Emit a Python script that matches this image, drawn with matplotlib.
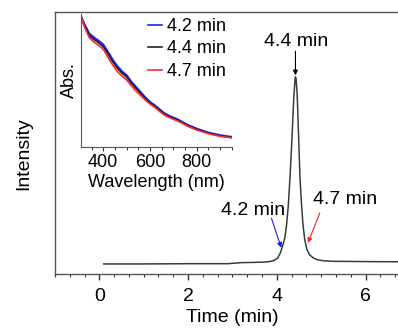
import matplotlib
matplotlib.use('Agg')
import matplotlib.pyplot as plt
from matplotlib.ticker import MultipleLocator

plt.rcParams['font.family'] = ['Liberation Sans', 'DejaVu Sans']

# chromatogram (time in min, intensity in arbitrary units)
time = [0.1, 1.0, 2.0, 2.9, 3.2, 3.5, 3.7, 3.84, 3.95, 4.02, 4.08, 4.13, 4.18,
        4.22, 4.26, 4.30, 4.34, 4.38, 4.41, 4.42, 4.435, 4.46, 4.49, 4.52,
        4.55, 4.59, 4.63, 4.68, 4.74, 4.82, 4.92, 5.05, 5.3, 6.0, 7.0]
intensity = [0.038, 0.038, 0.039, 0.039, 0.043, 0.044, 0.045, 0.047, 0.052,
             0.061, 0.080, 0.107, 0.137, 0.187, 0.263, 0.378, 0.511, 0.664,
             0.742, 0.752, 0.744, 0.683, 0.530, 0.378, 0.282, 0.187, 0.130,
             0.092, 0.073, 0.061, 0.054, 0.050, 0.048, 0.047, 0.046]

# inset absorption spectra
wavelength = [305, 320, 340, 360, 380, 400, 420, 440, 460, 480, 500, 520, 540,
              560, 580, 600, 620, 640, 660, 680, 700, 720, 740, 760, 780, 800,
              825, 850, 875, 900, 925, 950]
abs_42 = [1.0, 0.94, 0.87, 0.84, 0.815, 0.785, 0.73, 0.67, 0.62, 0.58, 0.55,
          0.50, 0.46, 0.42, 0.38, 0.345, 0.32, 0.29, 0.26, 0.24, 0.225, 0.21,
          0.19, 0.17, 0.155, 0.14, 0.125, 0.11, 0.10, 0.09, 0.083, 0.077]
abs_44 = [1.0, 0.93, 0.855, 0.825, 0.80, 0.77, 0.715, 0.655, 0.605, 0.567,
          0.537, 0.49, 0.45, 0.41, 0.37, 0.337, 0.312, 0.283, 0.254, 0.234,
          0.219, 0.204, 0.185, 0.165, 0.15, 0.135, 0.12, 0.106, 0.096, 0.086,
          0.079, 0.073]
abs_47 = [1.0, 0.92, 0.84, 0.805, 0.78, 0.75, 0.69, 0.63, 0.58, 0.545, 0.515,
          0.47, 0.43, 0.395, 0.36, 0.33, 0.305, 0.275, 0.247, 0.228, 0.213,
          0.198, 0.18, 0.16, 0.145, 0.13, 0.116, 0.102, 0.092, 0.082, 0.076,
          0.07]

fig = plt.figure(figsize=(3.98, 3.30), dpi=100)
ax = fig.add_axes([0.138, 0.170, 0.892, 0.794])
ax.plot(time, intensity, color='#3a3a3a', lw=1.1)
ax.set_xlim(-1, 7)
ax.set_ylim(0, 1)
ax.set_yticks([])
ax.xaxis.set_major_locator(MultipleLocator(2))
ax.xaxis.set_minor_locator(MultipleLocator(1 / 3))
ax.tick_params(axis='x', which='major', length=4, width=1, labelsize=14,
               colors='#333333', labelcolor='black', pad=6)
ax.tick_params(axis='x', which='minor', length=2.5, width=0.8, colors='#333333')
ax.spines['right'].set_visible(False)
for s in ['left', 'top', 'bottom']:
    ax.spines[s].set_color('#555555')
    ax.spines[s].set_linewidth(1)
ax.set_xlabel('Time (min)', fontsize=14, labelpad=3)
ax.set_ylabel('Intensity', fontsize=14)
ax.yaxis.set_label_coords(-0.065, 0.46)

arrow = dict(arrowstyle='-|>', lw=0.8, mutation_scale=7, shrinkA=0, shrinkB=0)
ax.text(4.44, 0.87, '4.4 min', ha='center', va='baseline', fontsize=14)
ax.annotate('', xy=(4.42, 0.758), xytext=(4.42, 0.85),
            arrowprops=dict(arrow, color='black'))
ax.text(3.47, 0.225, '4.2 min', ha='center', va='baseline', fontsize=14)
ax.annotate('', xy=(4.10, 0.10), xytext=(3.88, 0.212),
            arrowprops=dict(arrow, color='#1a1aff'))
ax.text(5.53, 0.267, '4.7 min', ha='center', va='baseline', fontsize=14)
ax.annotate('', xy=(4.70, 0.118), xytext=(4.97, 0.233),
            arrowprops=dict(arrow, color='#ff2020'))

ins = fig.add_axes([0.2035, 0.5545, 0.379, 0.403])
ins.plot(wavelength, abs_42, color='#2020ff', lw=1.6, label='4.2 min')
ins.plot(wavelength, abs_44, color='#222222', lw=1.2, label='4.4 min')
ins.plot(wavelength, abs_47, color='#ff2a2a', lw=1.2, label='4.7 min')
ins.set_xlim(305, 950)
ins.set_ylim(0, 1.02)
ins.set_yticks([])
ins.xaxis.set_major_locator(MultipleLocator(200))
ins.xaxis.set_minor_locator(MultipleLocator(50))
ins.tick_params(axis='x', which='major', length=3, width=0.8, labelsize=13,
                colors='#333333', labelcolor='black', pad=2)
ins.tick_params(axis='x', which='minor', length=2, width=0.7, colors='#333333')
ins.spines['right'].set_visible(False)
ins.spines['top'].set_visible(False)
for s in ['left', 'bottom']:
    ins.spines[s].set_color('#555555')
ins.set_xlabel('Wavelength (nm)', fontsize=13, labelpad=2)
ins.set_ylabel('Abs.', fontsize=13, labelpad=2)
leg = ins.legend(loc='upper right', bbox_to_anchor=(0.96, 0.97),
                 frameon=False, fontsize=13, handlelength=0.8,
                 handletextpad=0.25, labelspacing=0.3, borderpad=0,
                 borderaxespad=0)
for h in leg.get_lines():
    h.set_linewidth(1.2)

fig.savefig('out.png', dpi=100)
